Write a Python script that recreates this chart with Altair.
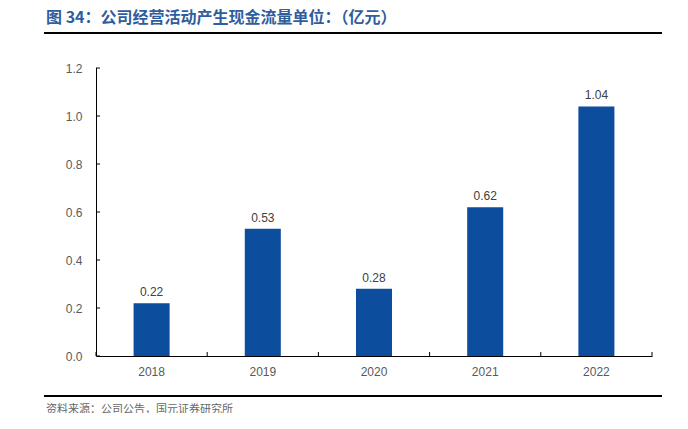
import altair as alt
import pandas as pd

years = ["2018", "2019", "2020", "2021", "2022"]
values = [0.22, 0.53, 0.28, 0.62, 1.04]
labels = ["0.22", "0.53", "0.28", "0.62", "1.04"]
y_ticks = [0.0, 0.2, 0.4, 0.6, 0.8, 1.0, 1.2]
boundaries = [0, 1, 2, 3, 4, 5]

title_text = "图 34：公司经营活动产生现金流量单位：（亿元）"
source_text = "资料来源：公司公告，国元证券研究所"

df = pd.DataFrame({"year": years, "value": values, "label": labels})
tick_df = pd.DataFrame({"value": y_ticks})
bnd_df = pd.DataFrame({"b": boundaries})

W, H = 556, 288
BLUE = "#0c4d9e"
FONT = "Liberation Sans"

xs = alt.X("year:N", sort=years, scale=alt.Scale(paddingInner=0.676, paddingOuter=0.338),
           axis=alt.Axis(title=None, labelAngle=0, domain=True, domainColor="#000000", ticks=False,
                         labelColor="#595959", labelFontSize=12, labelFont=FONT, labelPadding=10))
yaxis = alt.Axis(title=None, values=y_ticks, format=".1f", grid=False, domain=False,
                 ticks=False, labelColor="#595959", labelFontSize=12, labelFont=FONT,
                 labelPadding=14)
yscale = alt.Scale(domain=[0, 1.2], nice=False)

bars = alt.Chart(df).mark_bar(color=BLUE).encode(
    x=xs, y=alt.Y("value:Q", scale=yscale, axis=yaxis))
txt = alt.Chart(df).mark_text(dy=-11, fontSize=12, font=FONT, color="#404040").encode(
    x=alt.X("year:N", sort=years), y=alt.Y("value:Q", scale=yscale, axis=yaxis), text="label:N")

ytk = alt.Chart(tick_df).mark_rule(color="#000000", strokeWidth=1).encode(
    y=alt.Y("value:Q", scale=yscale, axis=yaxis),
    x=alt.value(0), x2=alt.value(4))

xtk = alt.Chart(bnd_df).mark_rule(color="#000000", strokeWidth=1).encode(
    x=alt.X("b:Q", scale=alt.Scale(domain=[0, 5], nice=False, zero=False), axis=None),
    y=alt.value(H), y2=alt.value(H - 4))

ydomain = alt.Chart(pd.DataFrame({"t": [0]})).mark_rule(color="#000000", strokeWidth=1).encode(
    x=alt.value(0.5), y=alt.value(0), y2=alt.value(H))

title_mark = alt.Chart(pd.DataFrame({"t": [title_text]})).mark_text(
    align="left", baseline="middle", fontSize=16, fontWeight="bold", color="#2f5d9e",
    font="Noto Sans CJK SC").encode(text="t:N", x=alt.value(-50), y=alt.value(-50))
title_rule = alt.Chart(pd.DataFrame({"t": [0]})).mark_rule(color="#000000", strokeWidth=2).encode(
    x=alt.value(-52), x2=alt.value(566), y=alt.value(-35))
src_rule = alt.Chart(pd.DataFrame({"t": [0]})).mark_rule(color="#000000", strokeWidth=2).encode(
    x=alt.value(-52), x2=alt.value(566), y=alt.value(328))
src_mark = alt.Chart(pd.DataFrame({"t": [source_text]})).mark_text(
    align="left", baseline="middle", fontSize=11, color="#666666",
    font="Noto Sans CJK SC").encode(text="t:N", x=alt.value(-50), y=alt.value(342))

main = alt.layer(bars, txt, ytk)
chart = alt.layer(main, xtk, ydomain, title_mark, title_rule, src_rule, src_mark).resolve_scale(x="independent").properties(
    width=W, height=H,
    autosize=alt.AutoSizeParams(type="none"),
    padding={"left": 88, "top": 60, "right": 28, "bottom": 57},
).configure_view(stroke=None)

chart.save("out.html", embed_options={"renderer": "svg", "actions": False})
